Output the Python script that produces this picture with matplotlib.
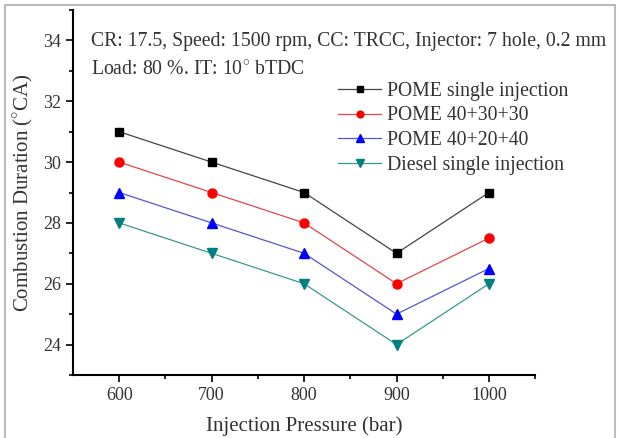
import matplotlib
matplotlib.use('Agg')
import matplotlib.pyplot as plt
from matplotlib.patches import Rectangle

plt.rcParams['font.family'] = ['Liberation Serif', 'DejaVu Serif']
plt.rcParams['mathtext.fontset'] = 'custom'
plt.rcParams['mathtext.rm'] = 'Liberation Serif'

pressure = [600, 700, 800, 900, 1000]
pome_single = [31, 30, 29, 27, 29]
pome_403030 = [30, 29, 28, 26, 27.5]
pome_402040 = [29, 28, 27, 25, 26.5]
diesel_single = [28, 27, 26, 24, 26]

txt = '#333333'
fig = plt.figure(figsize=(6.18, 4.38), dpi=100)
ax = fig.add_axes([0.118, 0.144, 0.748, 0.833])

ax.plot(pressure, pome_single, '-s', color='#444444', lw=0.9, ms=6, markerfacecolor='black',
        markeredgecolor='black', label='POME single injection')
ax.plot(pressure, pome_403030, '-o', color='#e04848', lw=0.9, ms=6.5, markerfacecolor='red',
        markeredgecolor='red', label='POME 40+30+30')
ax.plot(pressure, pome_402040, '-^', color='#5555d0', lw=0.9, ms=7.5, markerfacecolor='blue',
        markeredgecolor='blue', label='POME 40+20+40')
ax.plot(pressure, diesel_single, '-v', color='#3a9a8a', lw=0.9, ms=7.5, markerfacecolor='#008080',
        markeredgecolor='#008080', label='Diesel single injection')

ax.set_xlim(550, 1050)
ax.set_ylim(23, 35)
ax.set_xticks(pressure)
ax.set_xticks([650, 750, 850, 950, 1050], minor=True)
ax.set_yticks([24, 26, 28, 30, 32, 34])
ax.set_yticks([23, 25, 27, 29, 31, 33, 35], minor=True)
ax.tick_params(which='major', direction='out', length=5, width=1.2, labelsize=13, labelcolor=txt)
ax.tick_params(which='minor', direction='out', length=3, width=1.2)
ax.spines['top'].set_visible(False)
ax.spines['right'].set_visible(False)
ax.spines['left'].set_linewidth(1.5)
ax.spines['bottom'].set_linewidth(1.5)

ax.set_xlabel('Injection Pressure (bar)', fontsize=15, color=txt, labelpad=9)
ax.set_ylabel(r'Combustion Duration ($^{\circ}$CA)', fontsize=15, color=txt, labelpad=6)

ax.text(0.04, 0.915, 'CR: 17.5, Speed: 1500 rpm, CC: TRCC, Injector: 7 hole, 0.2 mm',
        transform=ax.transAxes, fontsize=14.2, color=txt, va='center', clip_on=False)
ax.text(0.04, 0.835, r'Load: 80 %. IT: 10$^{\circ}$ bTDC',
        transform=ax.transAxes, fontsize=14.2, color=txt, va='center')

leg = ax.legend(loc='upper left', bbox_to_anchor=(0.552, 0.83), frameon=False,
                fontsize=14.2, handlelength=2.2, handletextpad=0.3, labelspacing=0.28,
                borderpad=0, markerscale=0.75)
for t in leg.get_texts():
    t.set_color(txt)

fig.patches.append(Rectangle((0.008, -0.01), 0.987, 0.998, transform=fig.transFigure,
                             fill=False, edgecolor='#bbbbbb', lw=1.5))

fig.savefig('out.png', dpi=100)
